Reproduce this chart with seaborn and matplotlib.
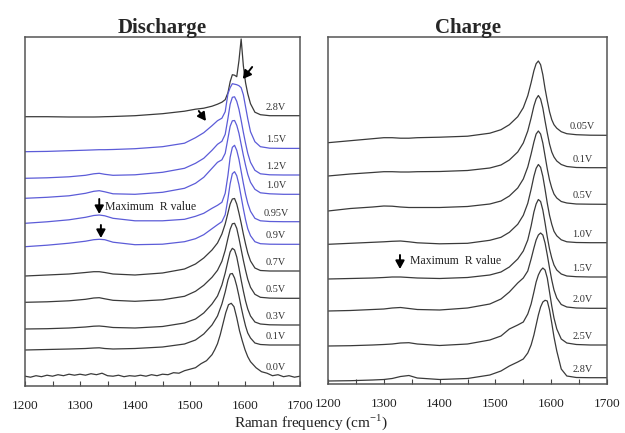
import matplotlib
matplotlib.use("Agg")
import matplotlib.pyplot as plt
import seaborn as sns
import numpy as np

# ---------------- data ----------------
# Discharge panel: shared Raman shift grid (cm-1)
xd = [1200, 1240, 1280, 1310, 1325, 1335, 1345, 1360, 1400, 1450, 1490, 1510, 1525,
      1540, 1550, 1558, 1564, 1569, 1573, 1577, 1581, 1585, 1589, 1593, 1597, 1601,
      1605, 1610, 1618, 1628, 1645, 1670, 1700]

d_2p8 = [0, 0, -0.3, -0.3, -0.3, -0.2, 0, 0.2, 1, 3, 5.5, 7.5, 8.5, 10.5, 12.5, 14.5, 17,
         24, 35, 42, 41.5, 40, 56, 77.7, 51, 34, 23, 13, 4.5, 2, 1, 1, 1]
d_1p5 = [0, 0.3, 1, 1.5, 1.8, 2, 2, 2.2, 3, 5, 8.5, 14, 19, 26, 31, 33.5, 40,
         58, 64, 68, 67.5, 67, 66, 64, 57, 45, 33, 20, 10, 5, 3.5, 3.3, 3.3]
d_1p2 = [0, 0.5, 1.5, 3, 4.5, 5, 4, 3, 3.5, 6, 10, 15, 20, 28, 34, 37, 44,
         60, 74, 81, 81.5, 77, 69, 58, 46, 35, 25, 16, 8, 4.5, 3.5, 3.3, 3.3]
d_1p0 = [0, 1, 2.5, 5, 7, 7.6, 6.5, 4.5, 4, 6, 10, 15, 21, 30, 36, 38.5, 45,
         60, 72, 77.5, 77.8, 73, 65, 54, 43, 33, 24, 16, 9, 5.5, 4.5, 4, 4]
d_0p95 = [0, 1.5, 3.5, 6, 7.8, 8.3, 7.5, 5, 2.5, 2.5, 4, 7, 10, 15, 18, 21, 30,
          48, 66, 76, 78, 73, 64, 52, 40, 29, 20, 12, 5, 2.5, 1.8, 1.6, 1.6]
d_0p9 = [0, 1.5, 3.5, 5.5, 7, 7.4, 7, 4.5, 2, 2.5, 5, 8, 12, 18, 22, 25, 32,
         48, 63, 73, 75, 71, 62, 50, 38, 27, 18, 11, 5, 3, 2.5, 2.4, 2.4]
d_0p7 = [0, 1, 2, 3.5, 4.3, 4.3, 3.5, 2, 1, 3, 7, 12, 18, 26, 33, 42, 52,
         63, 72, 77, 77.5, 72, 63, 53, 42, 32, 23, 15, 8, 5.5, 5, 5, 5]
d_0p5 = [0, 0.5, 1.5, 3, 4.3, 4.6, 3.5, 2, 1, 2.5, 6, 11, 17, 25, 32, 41, 52,
         64, 73, 78.5, 79, 74, 64, 53, 42, 32, 23, 15, 8, 5, 4.2, 4, 4]
d_0p3 = [0, 0.3, 1, 2, 2.8, 3, 2.5, 1.5, 1, 2.5, 6, 10, 16, 25, 33, 44, 56,
         68, 77, 80.7, 79, 72, 61, 49, 38, 28, 20, 13, 7, 5, 4.2, 4, 4]
d_0p1 = [0, 0.5, 1, 1.5, 2, 2.2, 1.5, 1, 1.5, 3, 6, 10, 16, 25, 34, 46, 58,
         70, 76, 76.5, 72, 64, 54, 43, 33, 24, 17, 12, 7, 5.5, 5, 5, 5]

# 0.0 V spectrum is noisy, so it has its own finer grid
x00 = [1200, 1210, 1220, 1230, 1240, 1250, 1260, 1270, 1280, 1290, 1300, 1310, 1320,
       1330, 1340, 1350, 1360, 1370, 1380, 1390, 1400, 1410, 1420, 1430, 1440, 1450,
       1460, 1470, 1480, 1490, 1500, 1510, 1520, 1530, 1540, 1545, 1550, 1555, 1560,
       1565, 1570, 1575, 1580, 1585, 1590, 1595, 1600, 1605, 1610, 1620, 1630, 1640,
       1650, 1660, 1670, 1680, 1690, 1700]
d_0p0 = [0.5, -0.5, 1, 0, 1.5, 0.5, 2, 1, 2.5, 1.5, 2.5, 1.5, 3, 2, 3.5, 1, 0.5,
         1.5, 0, 1, 0.5, 1.5, 0.5, 2, 1, 2.5, 2, 4, 3.5, 6, 7.5, 9, 13, 16, 22, 27,
         33, 42, 53, 64, 72, 73.4, 70, 59, 46, 36, 27, 20, 15, 9, 5, 3.5, 1, 2, 0,
         1, -0.5, 0.5]

dis_labels = ["2.8V", "1.5V", "1.2V", "1.0V", "0.95V", "0.9V", "0.7V", "0.5V",
              "0.3V", "0.1V", "0.0V"]

# Charge panel grid
xc = [1200, 1240, 1280, 1300, 1315, 1330, 1345, 1360, 1400, 1450, 1490, 1510, 1525,
      1540, 1550, 1558, 1564, 1569, 1573, 1577, 1581, 1585, 1589, 1593, 1597, 1601,
      1605, 1610, 1618, 1628, 1645, 1670, 1700]

c_0p05 = [0, 2, 4, 5, 5, 4.5, 4.5, 5, 5.5, 6.5, 9.5, 13, 18, 26, 35, 47, 60,
          72, 79, 81.7, 78, 68, 54, 42, 31, 23, 18, 14.5, 11, 9, 8, 7.5, 7.4]
c_0p1 = [0, 2, 3.5, 4.3, 4.3, 4, 4, 4.3, 4.5, 5.5, 8, 11, 16, 24, 33, 45, 58,
         70, 77, 80.5, 77, 68, 55, 43, 32, 24, 19, 15, 11.5, 9.5, 8.5, 8.3, 8.3]
c_0p5 = [0, 2.5, 4, 5, 4.8, 4, 3.5, 3.5, 3.5, 4.5, 7, 10, 15, 23, 32, 44, 57,
         69, 77, 80, 77, 68, 55, 42, 31, 23, 17, 13, 9.5, 8, 7, 6.8, 6.7]
c_1p0 = [0, 1, 2, 2.5, 3, 3.3, 2.5, 1.5, 0.5, 1, 4, 7, 12, 20, 29, 41, 55,
         68, 76, 79.8, 77, 68, 55, 41, 29, 20, 13, 8.5, 4.5, 2.5, 1.8, 1.6, 1.6]
c_1p5 = [0, 0.5, 1, 1.5, 2, 2, 1.5, 1, 0.5, 1.5, 4, 7, 12, 20, 28, 39, 53,
         67, 75, 79.5, 77.5, 69, 56, 42, 30, 21, 14, 9, 5, 3, 2.3, 2, 2]
c_2p0 = [0, 0.5, 1.5, 2, 3, 3.5, 2.5, 1.5, 1, 3, 7, 12, 19, 28, 33, 40, 52,
         63, 71, 76, 78, 76, 68, 56, 43, 31, 21, 13, 6.5, 4, 3, 2.7, 2.7]
c_2p5 = [0, 0.3, 1, 1.5, 2, 3, 3.3, 2, 0.5, 2, 6, 10, 17, 21, 24, 32, 42,
         54, 64, 71, 75.5, 78, 76, 68, 54, 40, 28, 17, 7, 3, 1.5, 1, 1]
c_2p8 = [0, 0.3, 1, 1.5, 2.5, 4.5, 5.5, 3, 1.5, 2.5, 6, 10, 15, 19, 22, 28, 36,
         46, 56, 66, 74, 79, 80.7, 80, 71, 58, 44, 30, 12, 5, 3.5, 3.3, 3.3]

chg_labels = ["0.05V", "0.1V", "0.5V", "1.0V", "1.5V", "2.0V", "2.5V", "2.8V"]

xticks = [1200, 1300, 1400, 1500, 1600, 1700]

# ---------------- layout / style ----------------
dis_series = [(xd, d_2p8), (xd, d_1p5), (xd, d_1p2), (xd, d_1p0), (xd, d_0p95),
              (xd, d_0p9), (xd, d_0p7), (xd, d_0p5), (xd, d_0p3), (xd, d_0p1),
              (x00, d_0p0)]
dis_offsets = [269.3, 234.3, 207.7, 187.7, 162.7, 139.3, 110, 83.7, 57, 36, 9.3]
blue = "#5c5cd8"
dark = "#3a3a3a"
dis_colors = [dark, blue, blue, blue, blue, blue, dark, dark, dark, dark, dark]

chg_series = [c_0p05, c_0p1, c_0p5, c_1p0, c_1p5, c_2p0, c_2p5, c_2p8]
chg_offsets = [241.3, 208, 173, 139.7, 105, 73, 38, 3]

sns.set_theme(style="white")
plt.rcParams["font.family"] = ["Liberation Serif", "DejaVu Serif"]
plt.rcParams["mathtext.fontset"] = "custom"
plt.rcParams["mathtext.rm"] = "Liberation Serif"

fig = plt.figure(figsize=(6.25, 4.33), dpi=100)
axL = fig.add_axes([25 / 625, 1 - 386 / 433, 275 / 625, 349 / 433])
axR = fig.add_axes([328 / 625, 1 - 384 / 433, 279 / 625, 347 / 433])

lw = 0.9
for (xs, ys), off, col in zip(dis_series, dis_offsets, dis_colors):
    sns.lineplot(x=xs, y=np.asarray(ys) + off, ax=axL, color=col, lw=lw,
                 sort=False, estimator=None, errorbar=None)
for (xs, ys), off, lab in zip(dis_series, dis_offsets, dis_labels):
    axL.text(1656, off + ys[-1] + 8.5, lab, ha="center", va="center",
             fontsize=7.4, color="#333333")

for ys, off in zip(chg_series, chg_offsets):
    sns.lineplot(x=xc, y=np.asarray(ys) + off, ax=axR, color=dark, lw=lw,
                 sort=False, estimator=None, errorbar=None)
for ys, off, lab in zip(chg_series, chg_offsets, chg_labels):
    axR.text(1656, off + ys[-1] + 8.5, lab, ha="center", va="center",
             fontsize=7.4, color="#333333")

for ax, top in ((axL, 349), (axR, 347)):
    ax.set_xlim(1200, 1700)
    ax.set_ylim(0, top)
    ax.set_yticks([])
    ax.set_xticks(np.arange(1200, 1701, 50))
    ax.set_xticklabels([str(v) if v in xticks else "" for v in np.arange(1200, 1701, 50)])
    ax.tick_params(axis="x", direction="in", length=3.5, width=0.8, colors="#444444",
                   labelsize=9.6, labelcolor="#222222", pad=10, bottom=True)
    for sp in ax.spines.values():
        sp.set_color("#555555")
        sp.set_linewidth(1.1)
    ax.set_xlabel("")
    ax.set_ylabel("")

axL.set_title("Discharge", fontsize=15, fontweight="bold", pad=3)
axR.set_title("Charge", fontsize=15, fontweight="bold", pad=3)
fig.text(0.497, 0.026, "Raman frequency (cm$^{-1}$)", ha="center", va="center",
         fontsize=11, color="#222222")

# arrows
akw = dict(arrowstyle="-|>,head_width=0.22,head_length=0.4", color="black", lw=1.4,
           shrinkA=0, shrinkB=0)
axL.annotate("", xy=(1596, 307), xytext=(1613, 319), arrowprops=akw)
axL.annotate("", xy=(1529, 265), xytext=(1516, 275), arrowprops=akw)
axL.annotate("", xy=(1335, 172), xytext=(1335, 187), arrowprops=akw)
axL.annotate("", xy=(1338, 148), xytext=(1338, 161), arrowprops=akw)
axL.text(1346, 179, "Maximum  R value", fontsize=8.5, va="center", ha="left",
         color="#222222")

axR.annotate("", xy=(1329, 115), xytext=(1329, 129), arrowprops=akw)
axR.text(1347, 123, "Maximum  R value", fontsize=8.5, va="center", ha="left",
         color="#222222")

fig.savefig("out.png", dpi=100)
